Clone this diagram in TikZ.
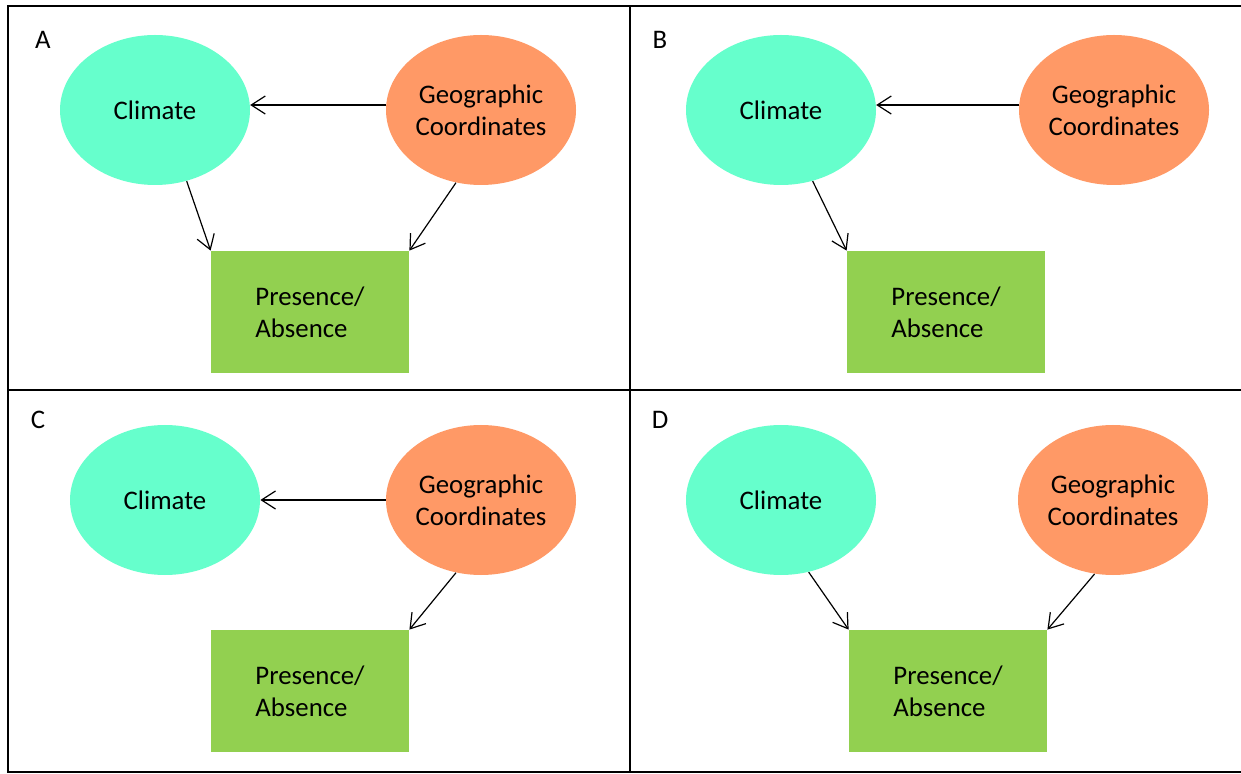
\documentclass[tikz,border=0pt]{standalone}
\usepackage{fontspec}
\setmainfont{Carlito}
\usepackage{xcolor}
\usetikzlibrary{arrows.meta,shapes.geometric}
\definecolor{climatefill}{HTML}{66FFCC}
\definecolor{geofill}{HTML}{FF9966}
\definecolor{presfill}{HTML}{92D050}

\begin{document}
\begin{tikzpicture}[x=0.5pt,y=-0.5pt,>={Straight Barb[length=7pt,width=9pt]},
  font=\fontsize{13.4}{16}\selectfont,
  climate/.style={ellipse,fill=climatefill,minimum width=95pt,minimum height=75pt,inner sep=0pt},
  geo/.style={ellipse,fill=geofill,minimum width=95pt,minimum height=75pt,inner sep=0pt,align=center},
  presence/.style={rectangle,fill=presfill,minimum width=99pt,minimum height=61pt,align=left},
  link/.style={->,line width=0.6pt}]
  \useasboundingbox (0,0) rectangle (1241,774);
  % frame and panel dividers
  \draw[line width=1pt] (8,6) rectangle (1262,772);
  \draw[line width=0.8pt] (630,6) -- (630,772);
  \draw[line width=0.8pt] (8,390) -- (1262,390);
  % A
  \node (labA) at (43,40) {A};
  \node[climate] (clA) at (155,110) {Climate};
  \node[geo] (geoA) at (481,110) {Geographic\\Coordinates};
  \node[presence] (paA) at (310,312) {Presence/\\Absence};
  \draw[link] (geoA.177) -- (clA.3);
  \draw[link] (clA.-66) -- (paA.north west);
  \draw[link] (geoA.251) -- (paA.north east);
  % B
  \node (labB) at (660,40) {B};
  \node[climate] (clB) at (781,110) {Climate};
  \node[geo] (geoB) at (1114,110) {Geographic\\Coordinates};
  \node[presence] (paB) at (946,312) {Presence/\\Absence};
  \draw[link] (geoB.177) -- (clB.3);
  \draw[link] (clB.-66) -- (paB.north west);
  % C
  \node (labC) at (38,420) {C};
  \node[climate] (clC) at (165,500) {Climate};
  \node[geo] (geoC) at (481,500) {Geographic\\Coordinates};
  \node[presence] (paC) at (310,691) {Presence/\\Absence};
  \draw[link] (geoC.west) -- (clC.east);
  \draw[link] (geoC.251) -- (paC.north east);
  % D
  \node (labD) at (660,420) {D};
  \node[climate] (clD) at (781,500) {Climate};
  \node[geo] (geoD) at (1113,500) {Geographic\\Coordinates};
  \node[presence] (paD) at (948,691) {Presence/\\Absence};
  \draw[link] (clD.-69) -- (paD.north west);
  \draw[link] (geoD.256) -- (paD.north east);
\end{tikzpicture}
\end{document}
